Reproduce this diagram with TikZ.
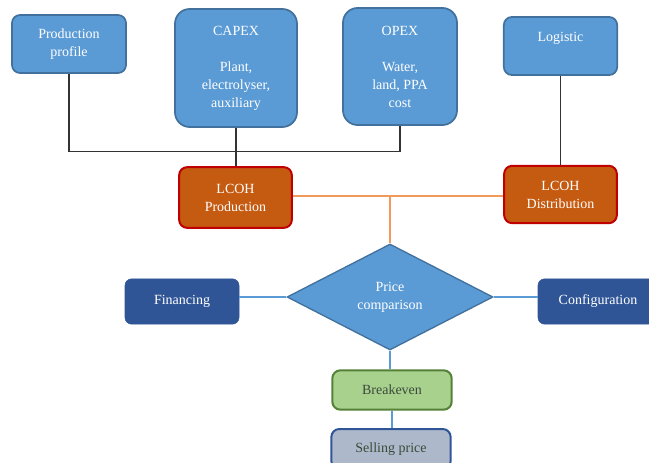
\documentclass[tikz,border=0pt]{standalone}
\usepackage{fontspec}
\setmainfont{Liberation Serif}
\usepackage{xcolor}
\usetikzlibrary{shapes.geometric}

\definecolor{boxblue}{HTML}{5B9BD5}
\definecolor{boxblueline}{HTML}{41719C}
\definecolor{lcohfill}{HTML}{C55A11}
\definecolor{lcohline}{HTML}{C00000}
\definecolor{darkblue}{HTML}{2F5597}
\definecolor{greenfill}{HTML}{A9D18E}
\definecolor{greenline}{HTML}{538135}
\definecolor{greyfill}{HTML}{ADB9CA}
\definecolor{orangeline}{HTML}{F29A5C}
\definecolor{textgrey}{HTML}{3B4A3B}

\tikzset{
  topbox/.style={draw=boxblueline, fill=boxblue, line width=1.3pt, rounded corners=6pt,
    text=white, align=center, inner sep=0pt, font=\fontsize{10.5}{13.5}\selectfont},
  costbox/.style={topbox, rounded corners=11pt},
  lcohbox/.style={draw=lcohline, fill=lcohfill, line width=1.5pt, rounded corners=6pt,
    text=white, align=center, inner sep=0pt, font=\fontsize{10.5}{13.5}\selectfont},
  sidebox/.style={draw=darkblue, fill=darkblue, rounded corners=5pt, text=white,
    inner sep=0pt, font=\fontsize{10.5}{13.5}\selectfont},
  lowbox/.style={line width=1.5pt, rounded corners=6pt, text=textgrey,
    inner sep=0pt, font=\fontsize{10.5}{13.5}\selectfont},
  blackline/.style={draw=black!80, line width=1pt},
  orangelink/.style={draw=orangeline, line width=1.2pt},
  bluelink/.style={draw=boxblue, line width=1pt}
}

\begin{document}
\begin{tikzpicture}[x=0.75pt,y=-0.75pt]
\useasboundingbox (0,0) rectangle (649,463);

% top row
\node[topbox, minimum width=85.5pt, minimum height=43.5pt] (profile) at (69,44) {Production\\profile};
\node[costbox, minimum width=91.5pt, minimum height=88.5pt] (capex) at (236,68) {CAPEX\\[13.5pt]Plant,\\electrolyser,\\auxiliary};
\node[costbox, minimum width=85.5pt, minimum height=87.8pt] (opex) at (400,66.5) {OPEX\\[13.5pt]Water,\\land, PPA\\cost};
\node[topbox, minimum width=85pt, minimum height=43.5pt] (logistic) at (560.5,46) {Logistic\\\mbox{}};

% LCOH row
\node[lcohbox, minimum width=84.5pt, minimum height=45.5pt] (lcohprod) at (235.5,197.5) {LCOH\\Production};
\node[lcohbox, minimum width=84.5pt, minimum height=43pt] (lcohdist) at (560.5,194.5) {LCOH\\Distribution};

% comparison row
\node[diamond, draw=boxblueline, fill=boxblue, line width=1pt, inner sep=0pt,
  minimum width=154.5pt, minimum height=79.5pt, text=white, align=center,
  font=\fontsize{10.5}{13.5}\selectfont] (price) at (390,297) {Price\\comparison};
\node[sidebox, minimum width=85.5pt, minimum height=34pt] (financing) at (182,301.5) {Financing};
\node[sidebox, minimum width=90pt, minimum height=34pt] (config) at (598,301.5) {Configuration};

% bottom
\node[lowbox, draw=greenline, fill=greenfill, minimum width=89.5pt, minimum height=29.5pt] (breakeven) at (392,390) {Breakeven};
\node[lowbox, draw=darkblue, fill=greyfill, minimum width=89.5pt, minimum height=30pt] (selling) at (391,449) {Selling price};

% connectors
\coordinate (bus) at (236,151.5);
\coordinate (split) at (390,196);
\draw[blackline] (profile.south) |- (bus) -| (opex.south);
\draw[blackline] (capex.south) -- (lcohprod.north -| capex.south);
\draw[blackline] (logistic.south) -- (lcohdist.north -| logistic.south);

\draw[orangelink] (lcohprod.east |- split) -- (lcohdist.west |- split);
\draw[orangelink] (split) -- (price.north);

\draw[bluelink] (financing.east |- price.west) -- (price.west);
\draw[bluelink] (price.east) -- (config.west |- price.east);
\draw[bluelink] (price.south) -- (breakeven.north -| price.south);
\draw[bluelink] (breakeven.south) -- (selling.north -| breakeven.south);

\end{tikzpicture}
\end{document}
